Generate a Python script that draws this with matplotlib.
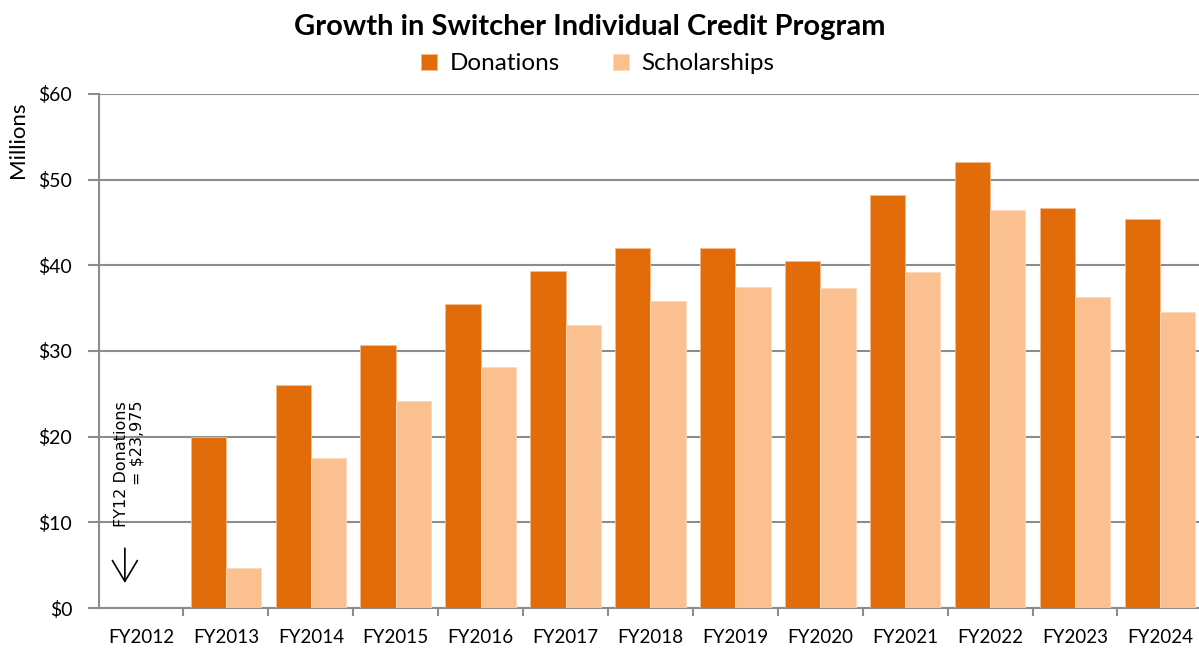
import numpy as np
import matplotlib
matplotlib.use("Agg")
import matplotlib.pyplot as plt

years = ["FY2012", "FY2013", "FY2014", "FY2015", "FY2016", "FY2017", "FY2018",
         "FY2019", "FY2020", "FY2021", "FY2022", "FY2023", "FY2024"]
donations = [0.024, 20.0, 26.0, 30.7, 35.5, 39.3, 42.0, 42.0, 40.5, 48.2, 52.1, 46.7, 45.4]
scholarships = [0.0, 4.7, 17.5, 24.2, 28.1, 33.0, 35.8, 37.5, 37.3, 39.2, 46.5, 36.3, 34.6]
y_ticks = [0, 10, 20, 30, 40, 50, 60]

DON_COLOR = "#E36C0A"
SCH_COLOR = "#FAC090"
GRID_COLOR = "#8C8C8C"

plt.rcParams["font.family"] = ["Lato", "DejaVu Sans"]

fig = plt.figure(figsize=(11.99, 6.5), dpi=100)
ax = fig.add_axes([0.0822, 0.0646, 0.9206, 0.7908])

x = np.arange(len(years))
w = 0.415
ax.bar(x - w / 2, donations, w, color=DON_COLOR, edgecolor="#F5B98A",
       linewidth=0.6, label="Donations", zorder=3)
ax.bar(x + w / 2, scholarships, w, color=SCH_COLOR, edgecolor="#FCD9BB",
       linewidth=0.6, label="Scholarships", zorder=3)

ax.set_xlim(-0.5, len(years) - 0.5)
ax.set_ylim(0, 60)
ax.set_yticks(y_ticks)
ax.set_yticklabels([f"${v}" for v in y_ticks], fontsize=14)
ax.set_xticks(x)
ax.set_xticklabels(years, fontsize=13.5)
ax.set_xticks(np.arange(len(years)) + 0.5, minor=True)
ax.tick_params(axis="x", which="major", length=0, pad=15)
ax.tick_params(axis="x", which="minor", length=6, color=GRID_COLOR, width=1.5)
ax.tick_params(axis="y", length=8, color=GRID_COLOR, width=1.5, pad=11)

ax.yaxis.grid(True, color=GRID_COLOR, linewidth=1.5, zorder=0)
ax.set_axisbelow(True)
for side in ["top", "right"]:
    ax.spines[side].set_visible(False)
for side in ["left", "bottom"]:
    ax.spines[side].set_color(GRID_COLOR)
    ax.spines[side].set_linewidth(1.5)

fig.text(0.492, 0.958, "Growth in Switcher Individual Credit Program",
         ha="center", va="center", fontsize=21, fontweight="bold")
fig.text(0.015, 0.785, "Millions", rotation=90, ha="center", va="center", fontsize=16)

fig.legend(loc="center", bbox_to_anchor=(0.4985, 0.902), ncol=2, frameon=False,
           fontsize=17.5, handlelength=0.65, handleheight=0.65, columnspacing=2.2,
           handletextpad=0.5)

# FY2012 donations note with arrow
ax.text(-0.14, 9.5, "FY12 Donations\n= $23,975", rotation=90, ha="center", va="bottom",
        multialignment="right", fontsize=11.5, family="DejaVu Sans", linespacing=1.0)
ax.annotate("", xy=(-0.19, 2.6), xytext=(-0.19, 7.3),
            arrowprops=dict(arrowstyle="->, head_length=0.5, head_width=0.3",
                            color="black", lw=1.2, mutation_scale=30))

fig.savefig("out.png", dpi=100)
